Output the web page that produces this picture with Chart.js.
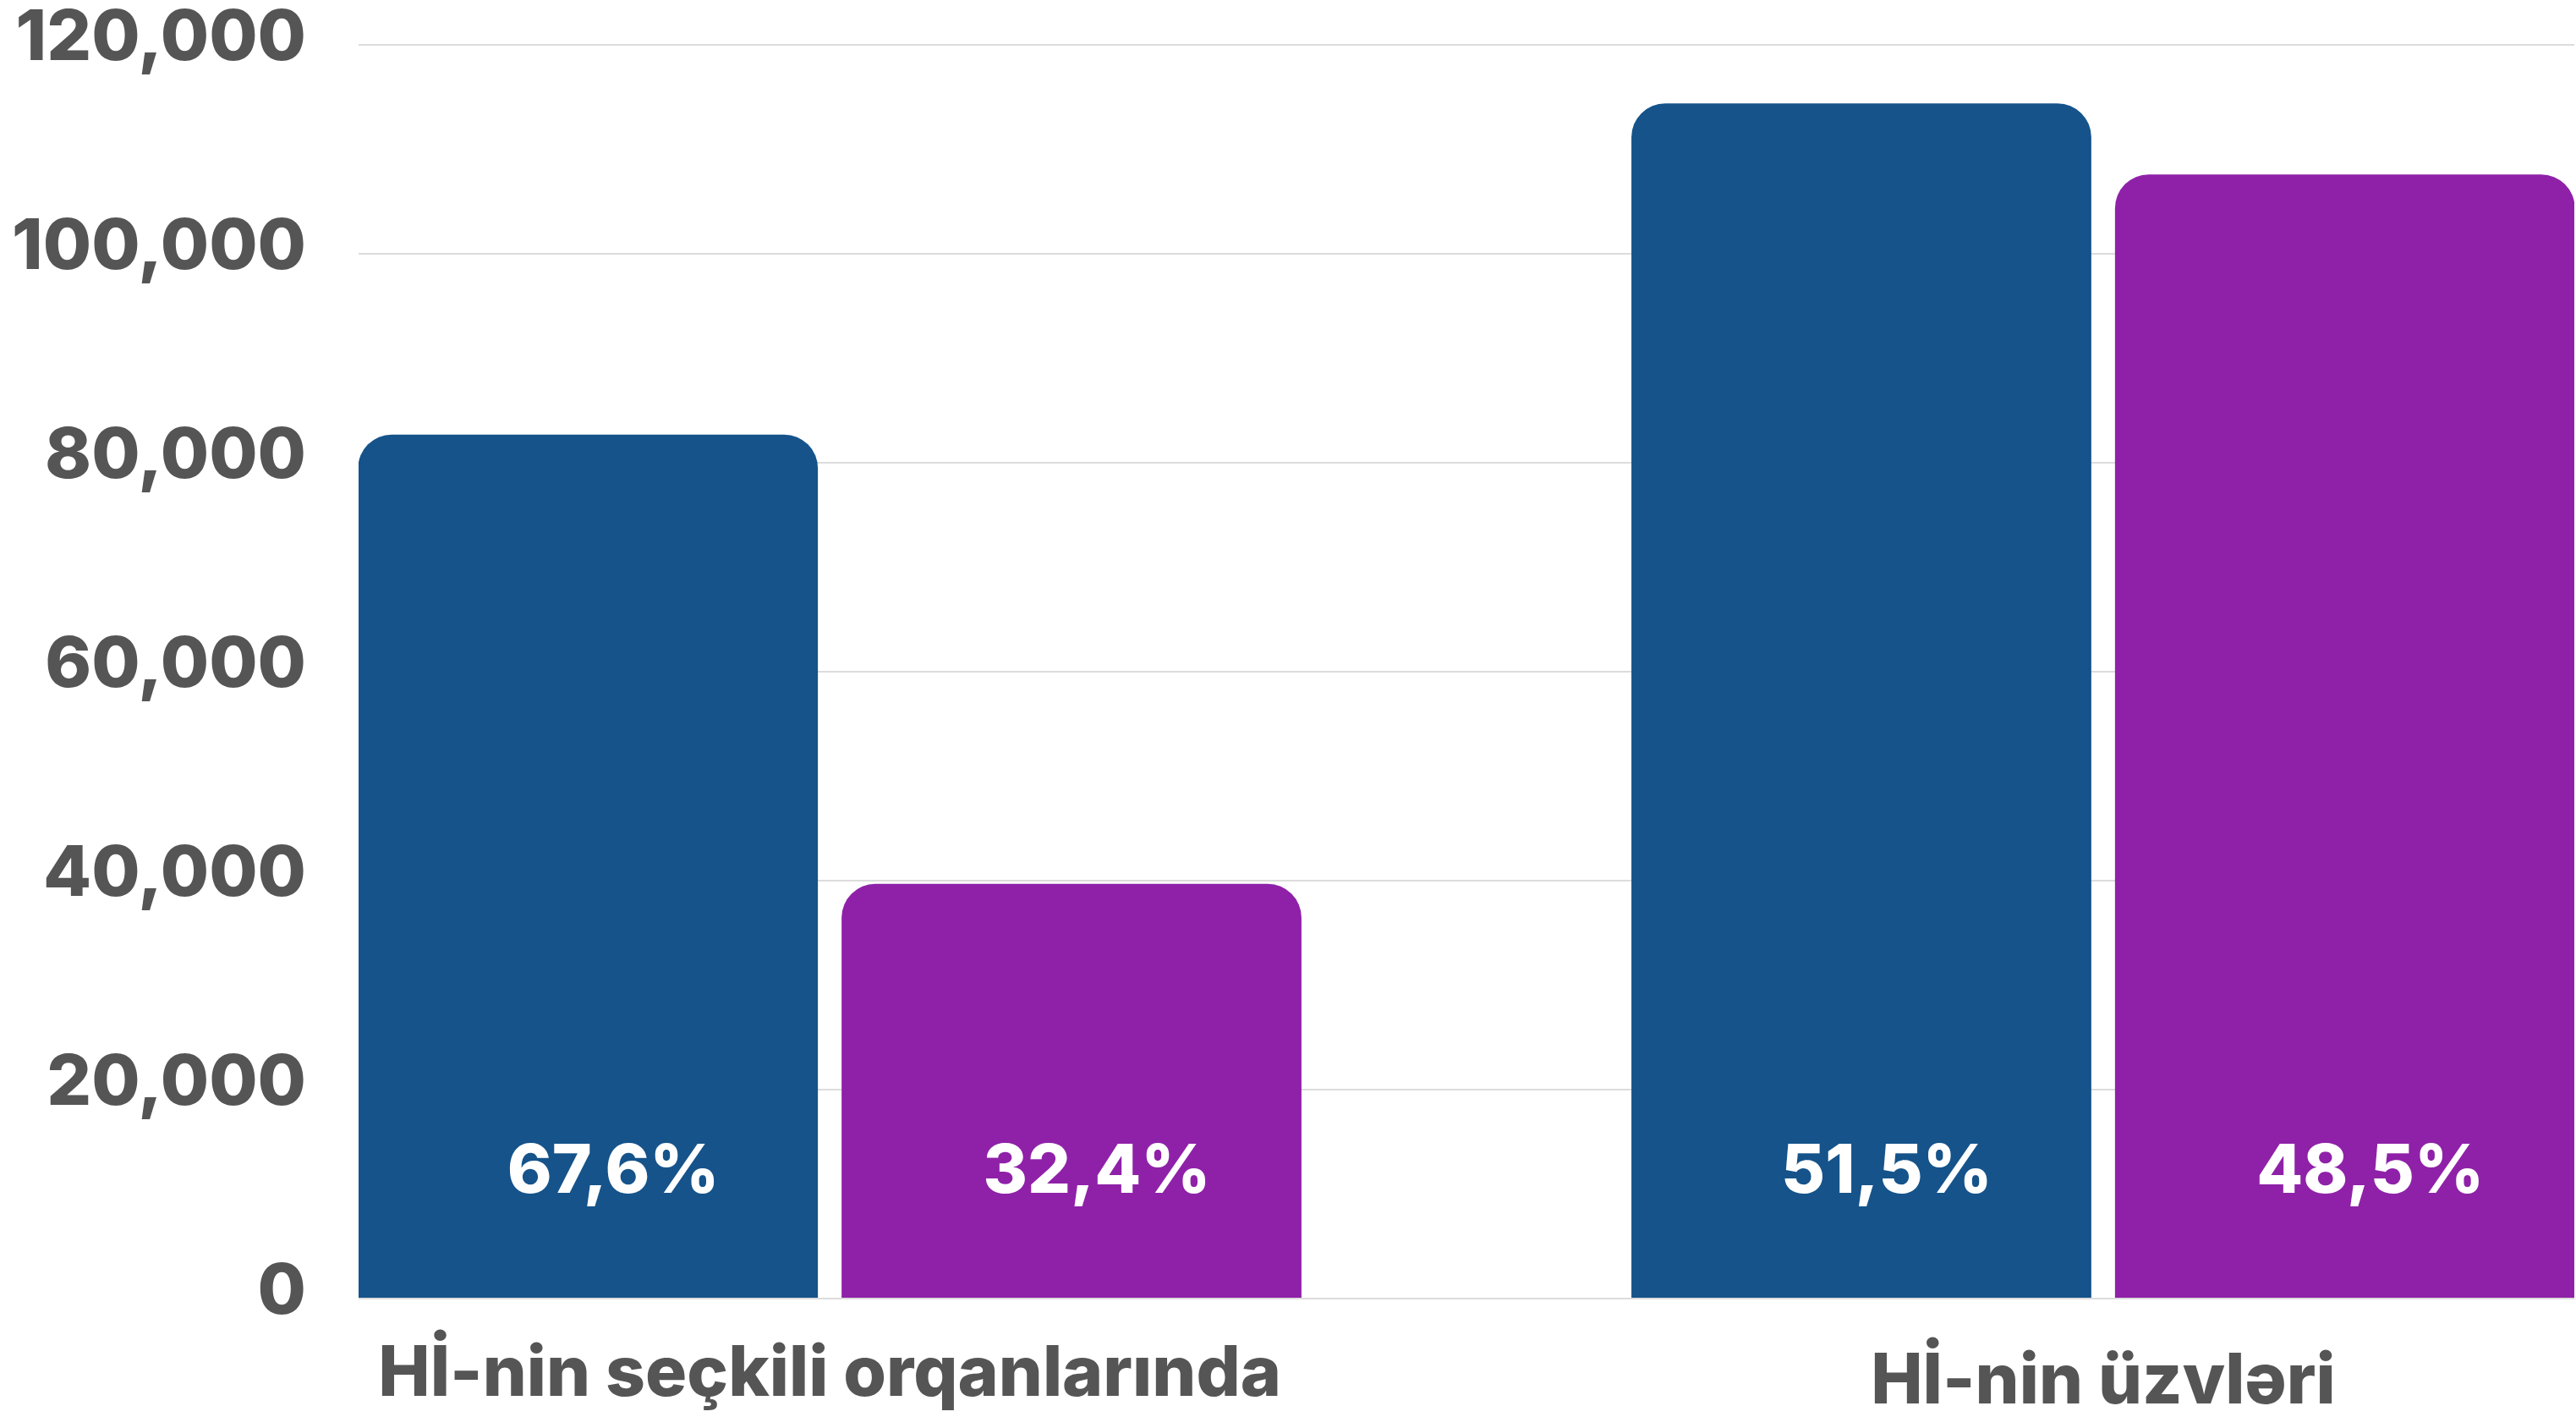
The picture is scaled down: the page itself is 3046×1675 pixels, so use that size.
<!DOCTYPE html>
<html>
<head>
<meta charset="utf-8">
<script src="https://cdn.jsdelivr.net/npm/chart.js@4/dist/chart.umd.min.js"></script>
<style>
  html, body { margin: 0; padding: 0; background: #ffffff; overflow: hidden; }
  #wrap { width: 3046px; height: 1675px; position: relative; }
</style>
</head>
<body>
<div id="wrap"><canvas id="c"></canvas></div>
<script>
// ---- data ----
const categories = ['Hİ-nin seçkili orqanlarında', 'Hİ-nin üzvləri'];
const seriesNames = ['Kişilər', 'Qadınlar'];
const blueValues = [82700, 114400];
const purpleValues = [39700, 107600];
const bluePct = ['67,6%', '51,5%'];
const purplePct = ['32,4%', '48,5%'];
const yTickValues = [0, 20000, 40000, 60000, 80000, 100000, 120000];

const BLUE = '#15538A';
const PURPLE = '#8F21A8';
const TEXT = '#555555';
const FONT = 'Inter, "Noto Sans", sans-serif';

const pctLabels = [bluePct, purplePct];

const pctPlugin = {
  id: 'pctLabels',
  afterDatasetsDraw(chart) {
    const ctx = chart.ctx;
    const y0 = chart.scales.y.getPixelForValue(0);
    chart.data.datasets.forEach((ds, di) => {
      const meta = chart.getDatasetMeta(di);
      meta.data.forEach((bar, i) => {
        ctx.save();
        ctx.font = '800 80px ' + FONT;
        ctx.fillStyle = '#ffffff';
        ctx.textAlign = 'center';
        ctx.textBaseline = 'alphabetic';
        ctx.fillText(pctLabels[di][i], bar.x + 30, y0 - 125);
        ctx.restore();
      });
    });
  }
};

function build() {
  const toPts = (vals) => vals.map((v, i) => ({ x: i, y: v }));
  new Chart(document.getElementById('c'), {
    type: 'bar',
    data: {
      datasets: [
        { label: seriesNames[0], data: toPts(blueValues), backgroundColor: BLUE },
        { label: seriesNames[1], data: toPts(purpleValues), backgroundColor: PURPLE }
      ]
    },
    options: {
      responsive: true,
      maintainAspectRatio: false,
      animation: false,
      devicePixelRatio: 1,
      layout: { padding: { top: 0, right: 2, bottom: 0, left: 0 } },
      datasets: {
        bar: {
          categoryPercentage: 0.7595,
          barPercentage: 0.951,
          borderRadius: 40,
          borderSkipped: 'start',
          inflateAmount: 0
        }
      },
      plugins: {
        legend: { display: false },
        tooltip: { enabled: false }
      },
      scales: {
        x: {
          type: 'linear',
          offset: false,
          min: -0.37,
          max: 1.37,
          grid: { display: false, drawTicks: false, offset: false },
          border: { display: false },
          afterFit(scale) { scale.height = 140; scale.paddingLeft = 0; scale.paddingRight = 0; },
          afterBuildTicks(scale) {
            scale.ticks = categories.map((c, i) => ({ value: i }));
          },
          ticks: {
            autoSkip: false,
            maxRotation: 0,
            minRotation: 0,
            padding: 41,
            color: TEXT,
            font: (ctx) => ({
              family: FONT,
              size: 82,
              weight: 800,
              lineHeight: ctx.index === 1 ? 1.42 : 1.2
            }),
            callback: (v) => categories[v]
          }
        },
        y: {
          min: 0,
          max: 120000,
          afterFit(scale) { scale.width = 424; scale.paddingTop = 53; scale.paddingBottom = 0; },
          afterBuildTicks(scale) {
            scale.ticks = yTickValues.map(v => ({ value: v }));
          },
          grid: { color: '#dcdcdc', lineWidth: 2, drawTicks: false },
          border: { display: false },
          ticks: {
            padding: 62,
            labelOffset: -7,
            color: TEXT,
            font: { family: FONT, size: 83, weight: 800 },
            callback: (v) => Number(v).toLocaleString('en-US')
          }
        }
      }
    },
    plugins: [pctPlugin]
  });
}

const fontLoads = [
  document.fonts.load('800 84px Inter'),
  document.fonts.load('700 84px Inter')
];
Promise.all(fontLoads).then(build, build);
</script>
</body>
</html>
